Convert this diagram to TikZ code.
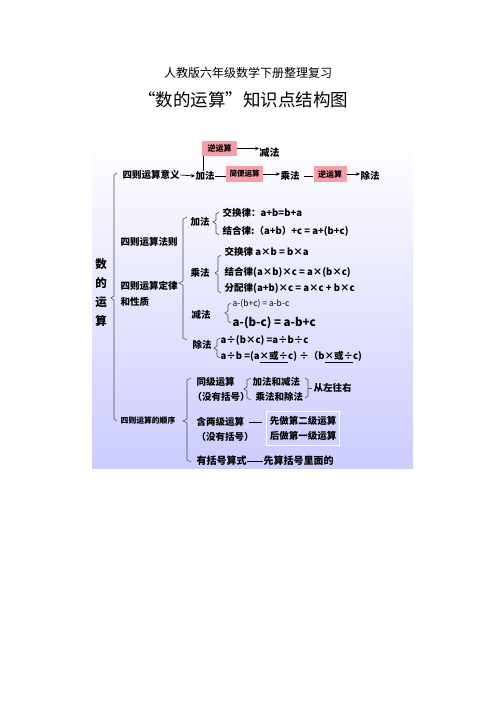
\documentclass[tikz,border=0pt]{standalone}
\usepackage{fontspec}
\setmainfont{Noto Sans CJK SC}
\usetikzlibrary{arrows.meta}
\definecolor{lav}{RGB}{204,204,255}
\definecolor{pinkb}{RGB}{248,158,168}
\newcommand{\fs}[1]{\fontsize{#1}{#1}\selectfont}
\begin{document}
\begin{tikzpicture}[x=1pt,y=-1pt,
  t/.style={anchor=west,inner sep=0.5pt,font=\bfseries\fs{9.5}},
  sv/.style={inner sep=0pt,font=\bfseries\fs{11.5}},
  pinkbox/.style={fill=pinkb,inner sep=0pt,font=\bfseries\fs{8}},
  arr/.style={-{Stealth[length=4pt,width=3.5pt]},line width=0.7pt},
  ln/.style={line width=0.7pt},
  br/.style={line width=0.6pt,draw=black!70}]
\useasboundingbox (0,0) rectangle (496,702);
\shade[top color=white,bottom color=lav] (92,140) rectangle (413,468);

% titles
\node[font=\fs{12}] (t1) at (248,73) {人教版六年级数学下册整理复习};
\node[font=\fs{17.5}] (t2) at (243,100) {“数的运算”知识点结构图};

% top row
\node[pinkbox,minimum width=35pt,minimum height=15pt] (ny1) at (219.5,148.5) {逆运算};
\node[t,font=\bfseries\fs{10}] (jian) at (259,153) {减法};
\draw[arr] (ny1.east) -- (ny1.east -| jian.west);
\node[t] (yiyi) at (122,175) {四则运算意义};
\node[t,font=\bfseries\fs{9.5}] (jia) at (195,176) {加法};
\draw[arr] (yiyi.east) -- (jia.west);
\coordinate (vl) at ([xshift=2pt]ny1.south west);
\draw[ln] (vl) -- (vl |- jia.north);
\node[pinkbox,minimum width=37pt,minimum height=16pt,font=\bfseries\fs{7.5}] (jb) at (244.5,174) {简便运算};
\draw[ln] (jia.east) -- (jia.east -| jb.west);
\node[t,font=\bfseries\fs{9.5}] (cheng) at (280,176) {乘法};
\draw[arr] (jb.east) -- (jb.east -| cheng.west);
\node[pinkbox,minimum width=33pt,minimum height=16pt] (ny2) at (330,174) {逆运算};
\draw[ln] ([xshift=4pt]cheng.east) -- (ny2.west |- cheng.east);
\node[t,font=\bfseries\fs{9.5}] (chu) at (360,176) {除法};
\draw[arr] (ny2.east) -- (ny2.east -| chu.west);

% main bracket
\draw[br] (117,173) -- (114,175) -- (114,296) -- (111,298) -- (114,300) -- (114,419) -- (117,421);
\node[sv] (s1) at (101,264) {数};
\node[sv] (s2) at (101,283) {的};
\node[sv] (s3) at (101,302) {运};
\node[sv] (s4) at (101,321) {算};

\node[t] (fz) at (120,242) {四则运算法则};
\node[t] (dl1) at (120,286) {四则运算定律};
\node[t] (dl2) at (120,302) {和性质};
\node[t,font=\bfseries\fs{7.8}] (sx) at (120,421) {四则运算的顺序};

% second bracket
\draw[br] (187,217) -- (183,219) -- (183,281) -- (179,283) -- (183,285) -- (183,338) -- (187,340);

% addition
\node[t] (jia2) at (190,222) {加法};
\draw[br] (219,212) -- (216,214) -- (216,220) -- (213,222) -- (216,224) -- (216,233) -- (219,235);
\node[t] (jh1) at (222,213) {交换律：a+b=b+a};
\node[t] (jh2) at (222,231) {结合律:（a+b）+c = a+(b+c)};

% multiplication
\node[t] (cheng2) at (190,273) {乘法};
\draw[br] (221,255) -- (218,257) -- (218,271) -- (215,273) -- (218,275) -- (218,291) -- (221,293);
\node[t] (ch1) at (224,252) {交换律 a×b = b×a};
\node[t] (ch2) at (224,272) {结合律(a×b)×c = a×(b×c)};
\node[t] (ch3) at (224,288) {分配律(a+b)×c = a×c + b×c};

% subtraction
\node[t] (jian2) at (191,315) {减法};
\draw[br] (231,303) -- (228,305) -- (228,311) -- (225,313) -- (228,315) -- (228,321) -- (231,323);
\node[t,font=\fs{8.5}] (js1) at (232,304) {a-(b+c) = a-b-c};
\node[t,font=\bfseries\fs{11.5}] (js2) at (232,323) {a-(b-c) = a-b+c};

% division
\node[t] (chu2) at (192,345) {除法};
\draw[br] (220,338) -- (217,340) -- (217,346) -- (214,348) -- (217,350) -- (217,356) -- (220,358);
\node[t] (cf1) at (220,340) {a÷(b×c) =a÷b÷c};
\node[t] (cf2) at (220,357) {a÷b =(a\underline{×或÷}c) ÷（b\underline{×或÷}c)};

% order
\draw[br] (191,378) -- (187,380) -- (187,419) -- (183,421) -- (187,423) -- (187,460) -- (191,462);
\node[t] (tj) at (196,382) {同级运算};
\node[t] (mk1) at (192,397) {（没有括号）};
\draw[br] (251,378) -- (247,380) -- (247,387) -- (244,389) -- (247,391) -- (247,398) -- (251,400);
\node[t] (jj) at (252,382) {加法和减法};
\node[t] (cc) at (255,397) {乘法和除法};
\draw[br] (305,378) -- (308,380) -- (308,396) -- (305,398);
\draw[br] (308,388) -- (312,388);
\node[t] (zy) at (313,388) {从左往右};

\node[t] (hl) at (196,422) {含两级运算};
\node[t] (mk2) at (196,437) {（没有括号）};
\node[draw=white,line width=1pt,align=left,inner sep=3pt,minimum width=72pt,minimum height=34pt,
  font=\bfseries\fontsize{9.5}{15}\selectfont] (bx) at (303,428) {先做第二级运算\\后做第一级运算};
\draw[ln] ([xshift=4pt]hl.east) -- ([xshift=-4pt]bx.west |- hl.east);

\node[t,font=\bfseries\fs{10}] (kh) at (196,461) {有括号算式};
\node[t,font=\bfseries\fs{10}] (xs) at (263,461) {先算括号里面的};
\draw[ln] (kh.east) -- (xs.west);
\end{tikzpicture}
\end{document}
